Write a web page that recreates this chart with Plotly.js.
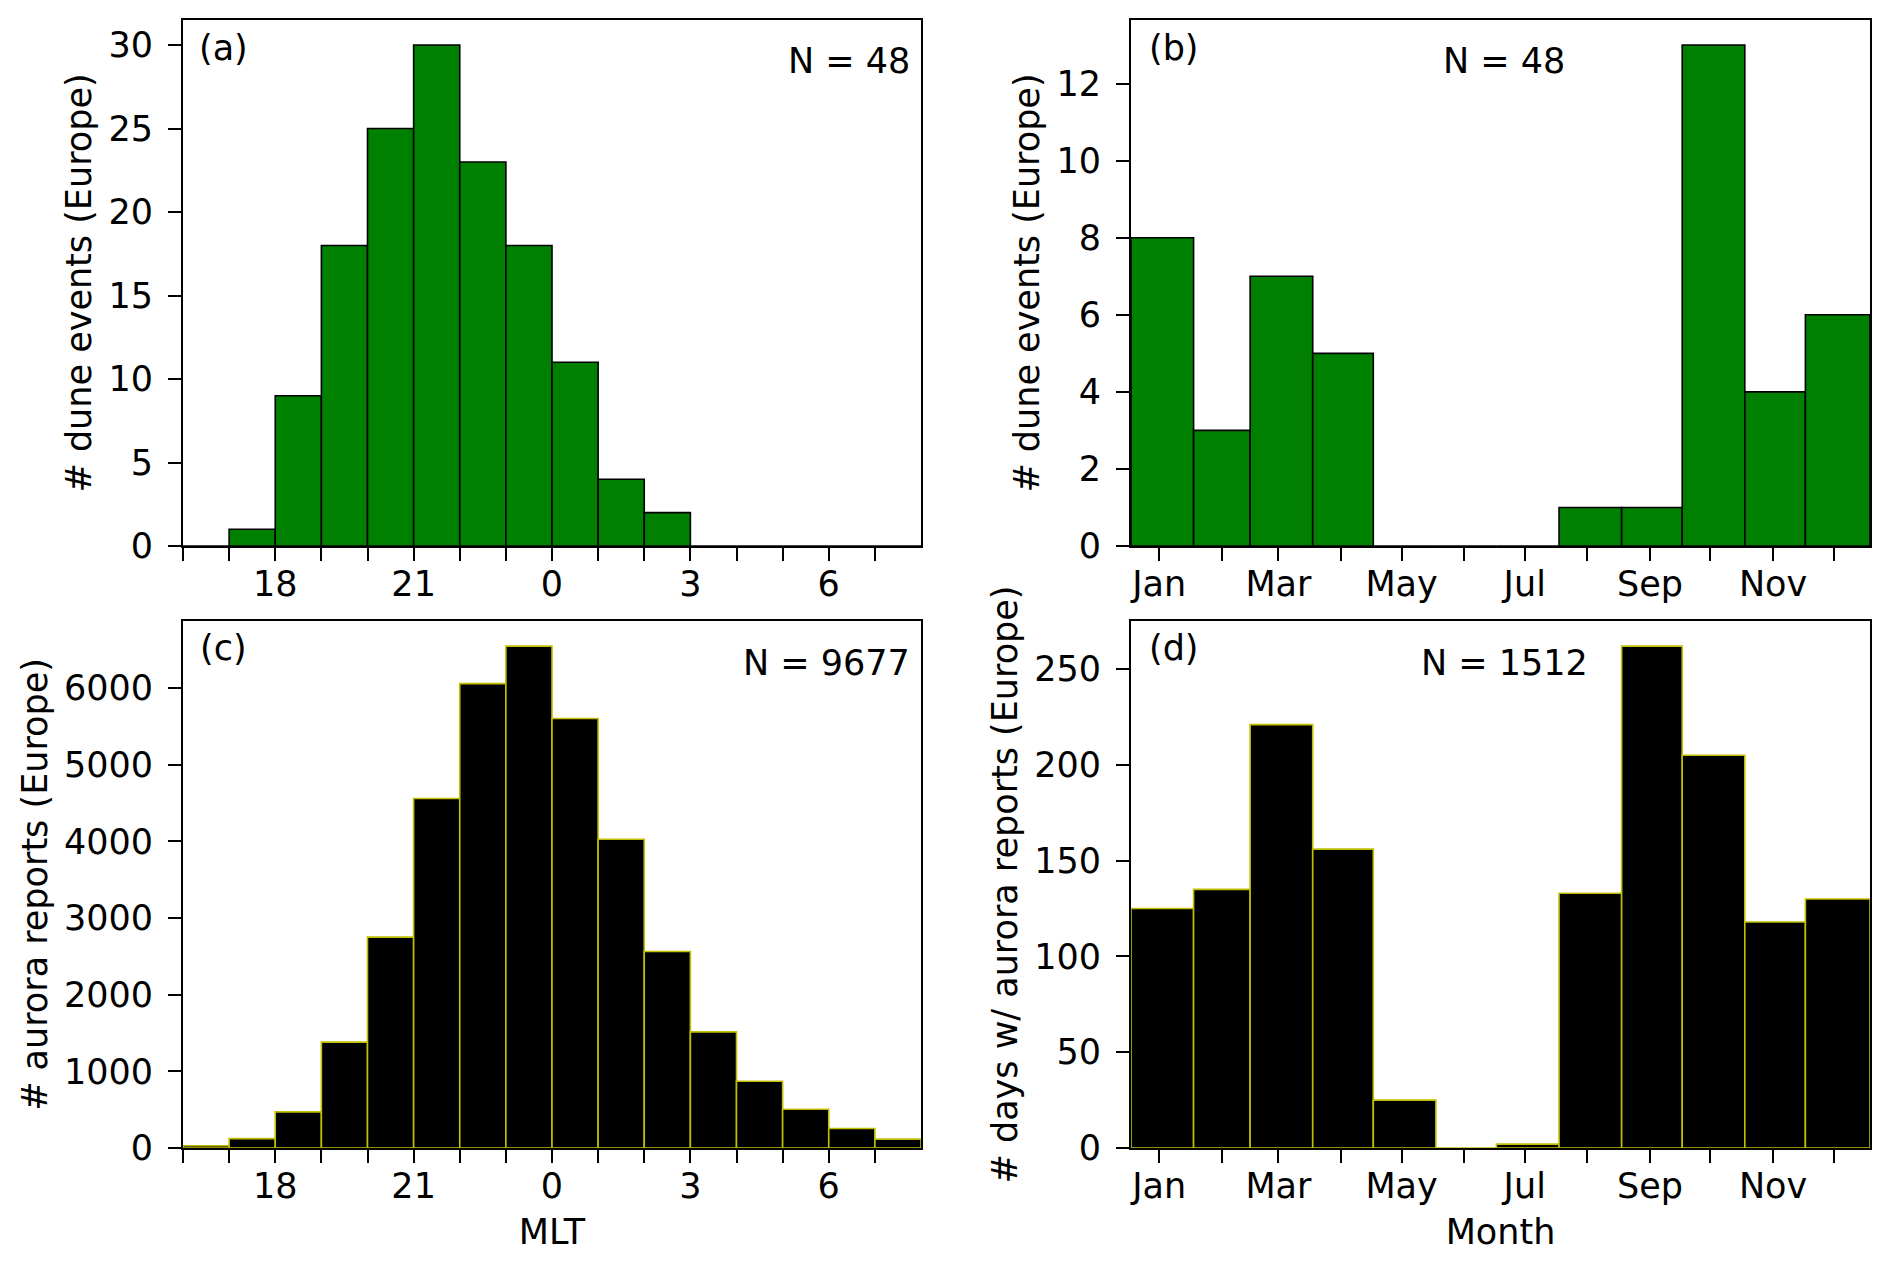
<!DOCTYPE html>
<html>
<head>
<meta charset="utf-8">
<script src="https://cdn.plot.ly/plotly-3.0.1.min.js"></script>
<style>
    html, body { margin: 0; padding: 0; background: #ffffff; }
    #chart { width: 1892px; height: 1265px; }
</style>
</head>
<body>
<div id="chart"></div>
<script>
// hourly bins (MLT), 24 = midnight, 16..32 spans 16 MLT to 08 MLT
const hourEdges = [16, 17, 18, 19, 20, 21, 22, 23, 24, 25, 26, 27, 28, 29, 30, 31, 32]
const hourTickVals = [16, 17, 18, 19, 20, 21, 22, 23, 24, 25, 26, 27, 28, 29, 30, 31]
const hourTickText = ["", "", "18", "", "", "21", "", "", "0", "", "", "3", "", "", "6", ""]

// monthly bins in day-of-year
const monthEdges = [0, 31, 59, 90, 120, 151, 181, 212, 243, 273, 304, 334, 366]
const monthTickVals = [14, 45, 73, 104, 134, 165, 195, 226, 257, 287, 318, 348]
const monthTickText = ["Jan", "", "Mar", "", "May", "", "Jul", "", "Sep", "", "Nov", ""]

// (a) dune events per MLT hour
const duneByHour = [0, 1, 9, 18, 25, 30, 23, 18, 11, 4, 2, 0, 0, 0, 0, 0]
// (b) dune events per month
const duneByMonth = [8, 3, 7, 5, 0, 0, 0, 1, 1, 13, 4, 6]
// (c) aurora reports per MLT hour
const auroraByHour = [30, 122, 471, 1381, 2750, 4558, 6056, 6544, 5601, 4026, 2562, 1514, 871, 505, 255, 116]
// (d) days with aurora reports per month
const auroraDaysByMonth = [125, 135, 221, 156, 25, 0, 2, 133, 262, 205, 118, 130]

const FONT = "DejaVu Sans"
const FONT_SIZE = 35
const W = 1892
const H = 1265

function px(x) { return x / W }
function py(y) { return 1 - y / H }

function binBars(edges, values, xa, ya, fill, edge) {
    let centers = []
    let widths = []
    for (let i = 0; i < values.length; i++) {
        centers.push((edges[i] + edges[i + 1]) / 2)
        widths.push(edges[i + 1] - edges[i])
    }
    return {
        type: "bar",
        x: centers,
        y: values,
        width: widths,
        xaxis: xa,
        yaxis: ya,
        marker: { color: fill, line: { color: edge, width: 1.6 } },
        hoverinfo: "x+y",
        showlegend: false
    }
}

function xAxis(domain, anchor, tickvals, ticktext, range, title) {
    let ax = {
        domain: domain,
        anchor: anchor,
        range: range,
        tickmode: "array",
        tickvals: tickvals,
        ticktext: ticktext,
        ticks: "outside",
        ticklen: 13,
        tickwidth: 2,
        tickcolor: "#000",
        ticklabelstandoff: -7,
        showline: true,
        linecolor: "#000",
        linewidth: 2,
        mirror: true,
        showgrid: false,
        zeroline: false,
        fixedrange: true
    }
    if (title) ax.title = { text: title, standoff: 14, font: { family: FONT, size: FONT_SIZE, color: "#000" } }
    return ax
}

function yAxis(domain, anchor, range, dtick, title) {
    return {
        domain: domain,
        anchor: anchor,
        range: range,
        dtick: dtick,
        tick0: 0,
        ticks: "outside",
        ticklen: 13,
        tickwidth: 2,
        tickcolor: "#000",
        ticklabelstandoff: 8,
        showline: true,
        linecolor: "#000",
        linewidth: 2,
        mirror: true,
        showgrid: false,
        zeroline: false,
        fixedrange: true,
        title: { text: title, standoff: 6, font: { family: FONT, size: FONT_SIZE, color: "#000" } }
    }
}

const colLeft = [px(183), px(921)]
const colRight = [px(1131), px(1870)]
const rowTop = [py(546), py(20)]
const rowBottom = [py(1148), py(621)]

const data = [
    binBars(hourEdges, duneByHour, "x", "y", "#008000", "#000000"),
    binBars(monthEdges, duneByMonth, "x2", "y2", "#008000", "#000000"),
    binBars(hourEdges, auroraByHour, "x3", "y3", "#000000", "#bfbf00"),
    binBars(monthEdges, auroraDaysByMonth, "x4", "y4", "#000000", "#bfbf00")
]

function note(text, x, y, xanchor) {
    return {
        text: text,
        xref: "paper",
        yref: "paper",
        x: x,
        y: y,
        xanchor: xanchor,
        yanchor: "middle",
        showarrow: false,
        font: { family: FONT, size: FONT_SIZE, color: "#000" }
    }
}

const layout = {
    width: W,
    height: H,
    margin: { l: 0, r: 0, t: 0, b: 0 },
    paper_bgcolor: "#ffffff",
    plot_bgcolor: "#ffffff",
    font: { family: FONT, size: FONT_SIZE, color: "#000" },
    bargap: 0,
    showlegend: false,
    xaxis: xAxis(colLeft, "y", hourTickVals, hourTickText, [16, 32]),
    yaxis: yAxis(rowTop, "x", [0, 31.5], 5, "# dune events (Europe)"),
    xaxis2: xAxis(colRight, "y2", monthTickVals, monthTickText, [0, 366]),
    yaxis2: yAxis(rowTop, "x2", [0, 13.65], 2, "# dune events (Europe)"),
    xaxis3: xAxis(colLeft, "y3", hourTickVals, hourTickText, [16, 32], "MLT"),
    yaxis3: yAxis(rowBottom, "x3", [0, 6872], 1000, "# aurora reports (Europe)"),
    xaxis4: xAxis(colRight, "y4", monthTickVals, monthTickText, [0, 366], "Month"),
    yaxis4: yAxis(rowBottom, "x4", [0, 275.1], 50, "# days w/ aurora reports (Europe)"),
    annotations: [
        note("(a)", px(197), py(48), "left"),
        note("N = 48", px(912), py(61), "right"),
        note("(b)", px(1147), py(48), "left"),
        note("N = 48", px(1504), py(61), "center"),
        note("(c)", px(198), py(648), "left"),
        note("N = 9677", px(912), py(663), "right"),
        note("(d)", px(1147), py(648), "left"),
        note("N = 1512", px(1504), py(663), "center")
    ]
}

Plotly.newPlot("chart", data, layout, { displayModeBar: false, staticPlot: true })
</script>
</body>
</html>
